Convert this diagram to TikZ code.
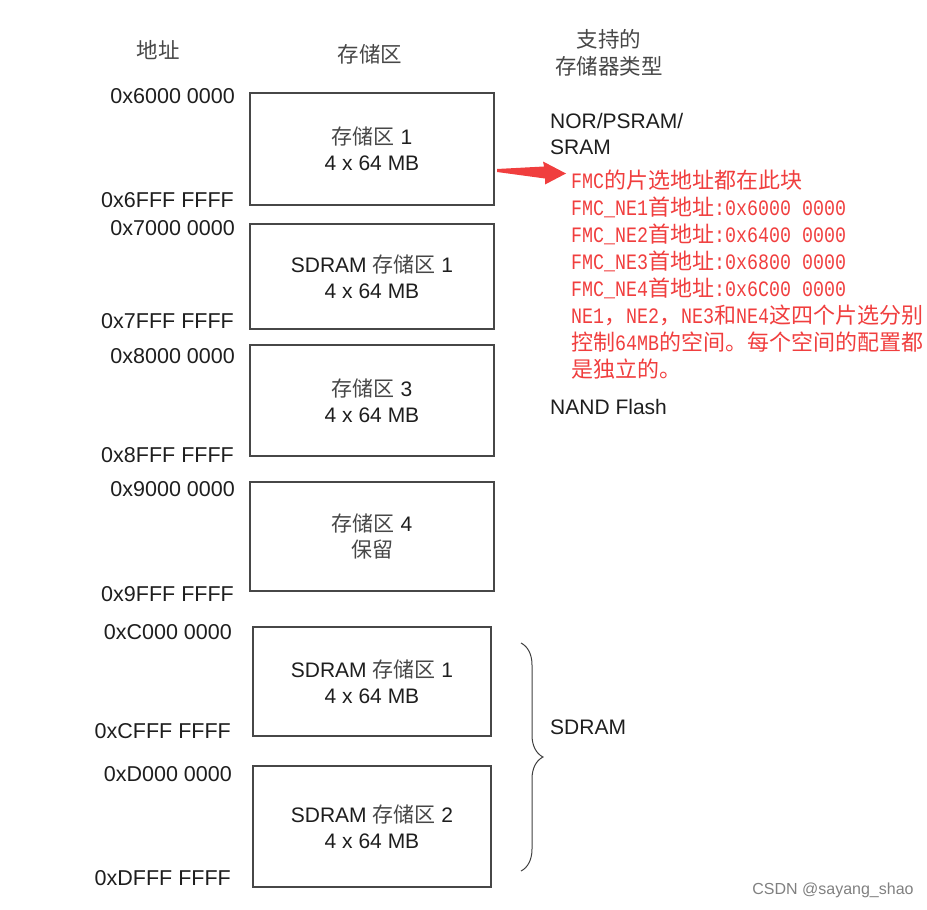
\documentclass[tikz,border=0pt]{standalone}
\usepackage{fontspec}
\setmainfont{Liberation Sans}
\newfontfamily\zhfont{Noto Sans CJK SC}
\newfontfamily\redmono[FakeStretch=0.833]{Liberation Mono}
\usetikzlibrary{calc,decorations.pathreplacing}
\definecolor{notered}{RGB}{240,62,62}
\definecolor{inkgray}{RGB}{30,30,30}
\newcommand{\zh}[1]{{\zhfont #1}}
\newcommand{\zhg}[1]{{\zhfont\color{black!72}#1}}
\tikzstyle{bank}  = [draw=black!72, line width=1.3pt, align=center, inner sep=0,
                     font=\fontsize{21}{26}\selectfont, text=inkgray]
\tikzstyle{addr}  = [anchor=east, inner sep=0, font=\fontsize{21.5}{26}\selectfont, text=inkgray]
\tikzstyle{kind}  = [anchor=west, inner sep=0, align=left, font=\fontsize{21}{26}\selectfont, text=inkgray]
\tikzstyle{head}  = [align=center, inner sep=0, font=\fontsize{21.5}{27}\selectfont]
\tikzstyle{note}  = [anchor=west, inner sep=0, text height=19pt, text depth=3pt,
                     font=\fontsize{22}{27}\redmono, text=notered]

\begin{document}
\begin{tikzpicture}[x=1pt, y=-1pt]
\useasboundingbox (0,0) rectangle (927,910);

    % column heads
    \node[head] (haddr) at (158,50)  {\zhg{地址}};
    \node[head] (hbank) at (370,54)  {\zhg{存储区}};
    \node[head] (hkind) at (609,53)  {\zhg{支持的}\\\zhg{存储器类型}};

    % banks
    \node[bank, minimum width=244, minimum height=112] (b1) at (372,149)   {\zhg{存储区} 1\\4 x 64 MB};
    \node[bank, minimum width=244, minimum height=105] (b2) at (372,276.5) {SDRAM \zhg{存储区} 1\\4 x 64 MB};
    \node[bank, minimum width=244, minimum height=111] (b3) at (372,400.5) {\zhg{存储区} 3\\4 x 64 MB};
    \node[bank, minimum width=244, minimum height=109] (b4) at (372,536.5) {\zhg{存储区} 4\\\zhg{保留}};
    \node[bank, minimum width=238, minimum height=109] (b5) at (372,681.5) {SDRAM \zhg{存储区} 1\\4 x 64 MB};
    \node[bank, minimum width=238, minimum height=121] (b6) at (372,826.5) {SDRAM \zhg{存储区} 2\\4 x 64 MB};

    % start and end addresses
    \node[addr] (a1s) at (235,96)  {0x6000 0000};
    \node[addr] (a1e) at (234,200) {0x6FFF FFFF};
    \node[addr] (a2s) at (235,228) {0x7000 0000};
    \node[addr] (a2e) at (234,321) {0x7FFF FFFF};
    \node[addr] (a3s) at (235,356) {0x8000 0000};
    \node[addr] (a3e) at (234,455) {0x8FFF FFFF};
    \node[addr] (a4s) at (235,489) {0x9000 0000};
    \node[addr] (a4e) at (234,594) {0x9FFF FFFF};
    \node[addr] (a5s) at (232,632) {0xC000 0000};
    \node[addr] (a5e) at (231,731) {0xCFFF FFFF};
    \node[addr] (a6s) at (232,774) {0xD000 0000};
    \node[addr] (a6e) at (231,878) {0xDFFF FFFF};

    % memory kinds
    \node[kind] (k1) at (550,134) {NOR/PSRAM/\\SRAM};
    \node[kind] (k2) at (550,407) {NAND Flash};
    \node[kind] (k3) at (550,727) {SDRAM};

    % red remark on bank 1
    \foreach \txt [count=\i] in {
        {FMC\zh{的片选地址都在此块}},
        {FMC\_NE1\zh{首地址}:0x6000 0000},
        {FMC\_NE2\zh{首地址}:0x6400 0000},
        {FMC\_NE3\zh{首地址}:0x6800 0000},
        {FMC\_NE4\zh{首地址}:0x6C00 0000},
        {NE1\zh{，}NE2\zh{，}NE3\zh{和}NE4\zh{这四个片选分别}},
        {\zh{控制}64MB\zh{的空间。每个空间的配置都}},
        {\zh{是独立的。}}}
        \node[note] (n\i) at (571,{180+27*(\i-1)}) {\txt};

    % arrow from bank 1 to the remark
    \coordinate (tail) at (497,170.5);
    \fill[notered] ($(tail)+(0,-1.5)$) -- (544,166.5) -- (543,161.5) -- (566,173.5)
                   -- (545,184.5) -- (545,178.5) -- ($(tail)+(0,1.5)$) -- cycle;

    % brace over the two SDRAM banks
    \coordinate (bt) at (521,643);
    \coordinate (bb) at (521,871);
    \draw[black!75, line width=1pt, decorate, decoration={brace, amplitude=22pt}] (bt) -- (bb);

    \node[inner sep=0, font=\fontsize{16}{18}\selectfont, text=black!50] (mark) at (833,890) {CSDN @sayang\_shao};

\end{tikzpicture}
\end{document}
